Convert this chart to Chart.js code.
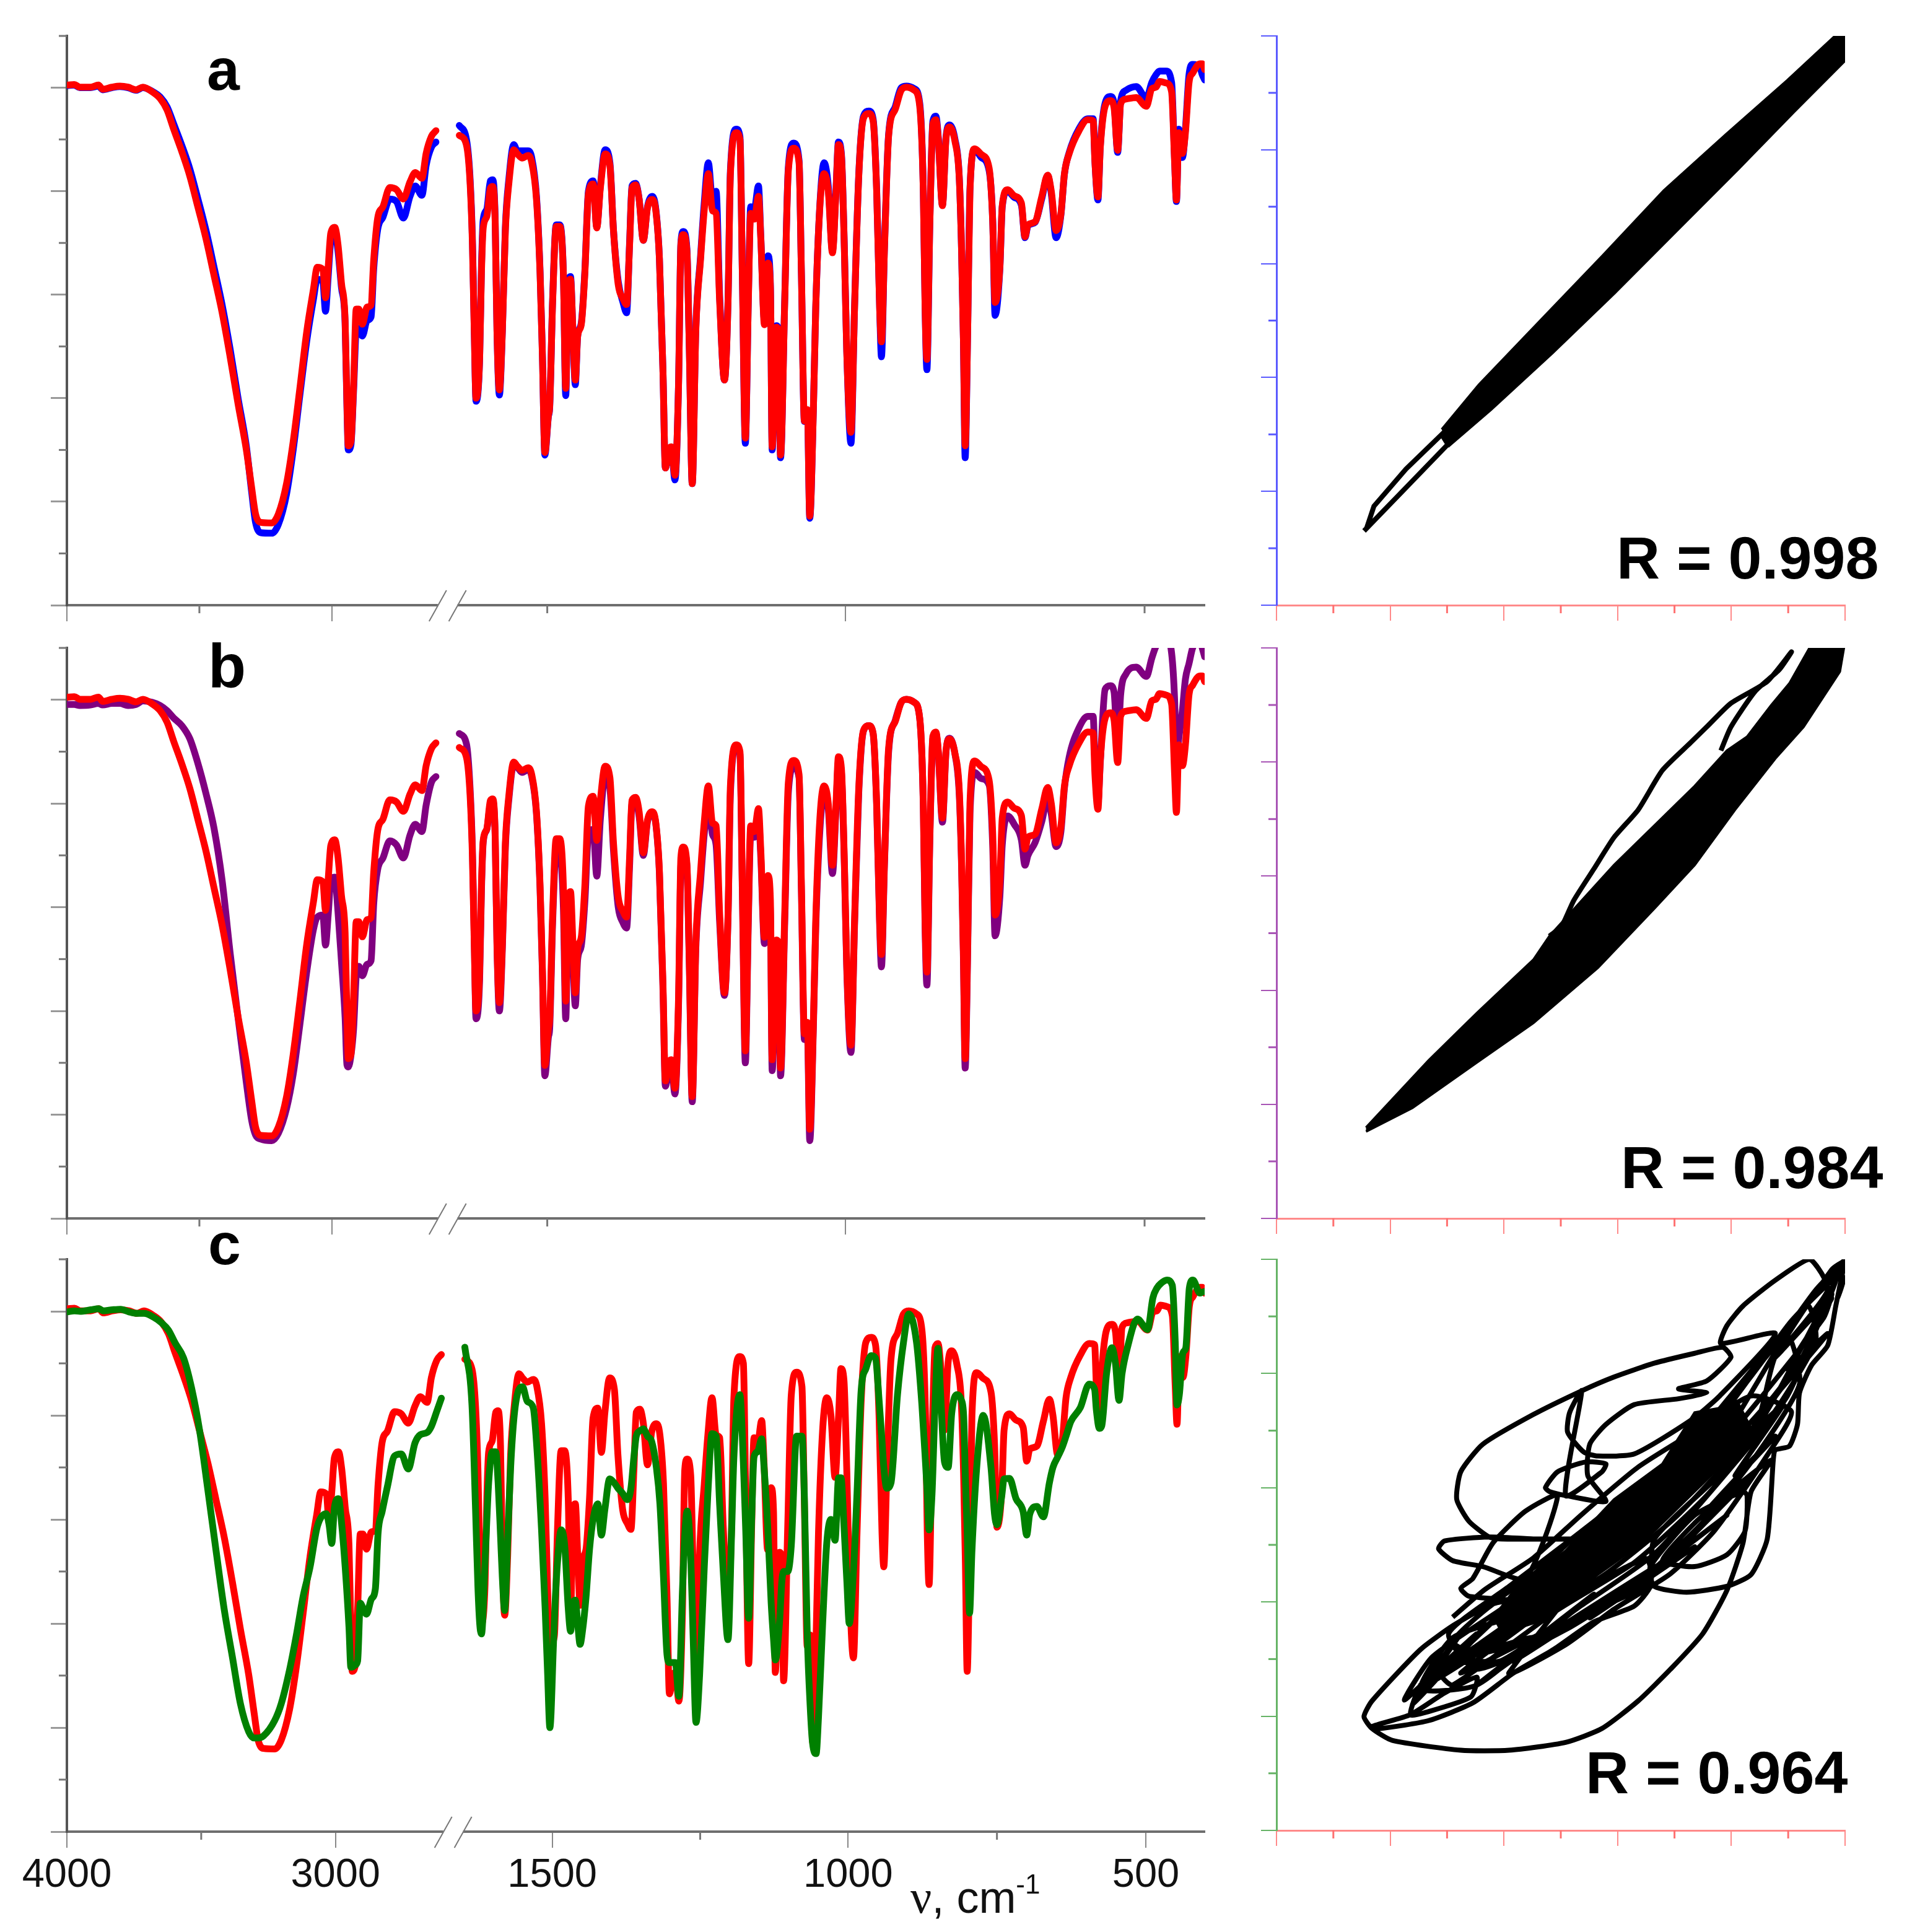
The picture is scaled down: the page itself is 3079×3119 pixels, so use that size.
<!DOCTYPE html>
<html>
<head>
<meta charset="utf-8">
<title>IR spectra and correlation plots</title>
<script src="https://cdn.jsdelivr.net/npm/chart.js@4/dist/chart.umd.js"></script>
<style>
  html, body { margin: 0; padding: 0; background: #fff; }
  #page { position: relative; width: 3079px; height: 3119px; overflow: hidden; background: #fff; }
  canvas { position: absolute; }
  .label { position: absolute; font-family: "Liberation Sans", sans-serif; font-weight: bold; line-height: 1; color: #000; white-space: pre; }
  #axisName { position: absolute; left: 1470px; top: 3024px; font: 72px/1 "Liberation Sans", sans-serif; color: #111; white-space: pre; }
  #axisName i { font: 76px/1 "Liberation Serif", serif; }
  #axisName sup { font-size: 44px; line-height: 0; position: relative; top: -6px; vertical-align: super; }
</style>
</head>
<body>
<div id="page">
  <canvas id="specA"></canvas><canvas id="specB"></canvas><canvas id="specC"></canvas>
  <canvas id="corrA"></canvas><canvas id="corrB"></canvas><canvas id="corrC"></canvas>
  <div class="label" style="left:334px;top:65px;font-size:95px">a</div>
  <div class="label" style="left:336px;top:1025px;font-size:100px">b</div>
  <div class="label" style="left:336px;top:1961px;font-size:95px">c</div>
  <div class="label" style="left:2610px;top:852px;font-size:97px">R = 0.998</div>
  <div class="label" style="left:2617px;top:1836px;font-size:97px">R = 0.984</div>
  <div class="label" style="left:2560px;top:2813px;font-size:97px">R = 0.964</div>
  <div id="axisName"><i>ν</i>, cm<sup>-1</sup></div>
</div>
<script>
// Spectra, high wavenumber part (cm-1 and relative transmittance)
const wnLeft = [3998,3972,3951,3911,3881,3865,3830,3800,3769,3739,
  3713,3678,3648,3622,3597,3566,3536,3506,3475,3445,
  3414,3384,3354,3323,3303,3288,3268,3227,3202,3171,
  3146,3121,3095,3070,3055,3034,3024,3014,3004,2989,
  2977,2964,2950,2943,2938,2928,2918,2908,2898,2885,
  2867,2852,2842,2827,2807,2781,2756,2730,2705,2685,
  2660,2644,2624,2607];
const redLeft = [100.5,100.6,100.1,100.1,100.5,99.7,100.1,100.3,100.1,99.6,
  100.1,99.2,97.9,95.7,92,87.6,82.9,77,70.8,63.8,
  56.5,48,38.9,30.1,22.8,17.6,16,15.9,17.6,23.5,
  31.6,41.8,52.8,60.9,65.3,64.9,59.4,65.3,71.9,73,
  69.7,62.3,55,38.9,30.8,31.6,42.6,57.2,57.2,54.3,
  57.6,58,66.7,74.8,77,80.7,80.3,78.5,81.8,83.6,
  82.5,87.3,90.6,91.7];
const blueLeft = [100.4,100.5,100,100,100.3,99.6,100,100.2,100,99.5,
  100,99.3,98.2,96.3,93,88.8,84.3,78.6,72.4,65.4,
  58,49.5,40,30.8,22,16,14,13.9,15.6,21.5,
  30,40.5,51,59,63,62.5,56.8,63.5,70.5,72,
  68.5,61.5,54.5,38,30,31,41.5,53,53.5,52,
  55,55.7,65,72.6,75,78.5,78,74.8,79,81,
  79.2,85,88.5,89.5];
const purpleLeft = [99.1,99.1,98.9,99,99.3,99,99.3,99.3,98.9,99.1,
  99.8,99.5,98.9,97.9,96.5,95,92.5,87.8,81.9,75.3,
  65.1,51.2,38.7,26.3,19,16.1,15.3,15,16.4,21.2,
  27.8,37.3,47.5,55.6,58.1,58.5,52.7,58.5,65.1,65.8,
  59.2,49.7,38.7,29.6,29.2,31.4,36.6,46.8,48.6,46.8,
  49,49.7,60.7,67.3,69.5,72.8,72,69.5,73.9,76,
  74.6,79.7,84.1,85.2];
const greenLeft = [99.9,100.1,100,100.3,100.5,100.1,100.3,100.4,99.9,99.6,
  99.6,98.9,97.8,96.4,93.9,91.1,85.3,77.1,65.6,54.1,
  42.6,33.6,24.6,19.2,18,18,18.4,21.3,24.6,31.1,
  37.7,45.1,50.8,58.2,60.3,61.1,59,55.4,62.3,64,
  59,50.8,39.3,31.6,31.6,32,32.8,43.9,43,41.8,
  44.7,46.7,57.4,61.5,66.4,72.2,72.6,69.7,74.7,76.3,
  76.7,77.9,80.8,83.3];

// Spectra, fingerprint part
const wnRight = [1647,1635,1629,1625,1622,1619,1613,1610,1607,1601,
  1595,1591,1587,1584,1580,1575,1570,1564,1556,1550,
  1542,1532,1526,1518,1512,1508,1504,1498,1496,1491,
  1485,1479,1473,1469,1465,1461,1457,1453,1449,1443,
  1437,1431,1423,1417,1411,1403,1395,1389,1381,1373,
  1367,1362,1358,1352,1346,1339,1332,1324,1318,1312,
  1306,1302,1296,1292,1286,1280,1276,1272,1266,1262,
  1257,1251,1243,1237,1230,1223,1217,1211,1203,1197,
  1193,1183,1177,1173,1168,1163,1159,1153,1146,1142,
  1136,1130,1126,1123,1116,1112,1109,1102,1096,1087,
  1078,1074,1069,1064,1060,1054,1050,1043,1036,1029,
  1022,1016,1012,1007,1002,998,991,985,978,970,
  961,954,948,943,940,935,928,917,907,898,
  885,876,870,867,864,859,854,849,845,838,
  832,826,817,810,806,803,800,796,792,784,
  773,760,754,750,742,738,729,718,706,700,
  695,683,672,662,656,648,640,634,626,610,
  595,586,583,578,574,566,557,551,545,540,
  531,514,497,488,481,475,464,455,450,447,
  443,437,432,426,420,408,404,399];
const redRight = [90.8,88.9,81.7,69.6,53.1,40,47.7,64.1,72.9,75.1,
  80.6,80.9,74,53.1,41.6,53.1,72.4,81.7,88,87.2,
  86.4,86.9,85.6,78.4,64.1,47.7,29.5,36.7,38.3,58.6,
  73.2,73.2,64.1,41.9,61.4,63,53.1,43.5,52,54.2,
  64.1,79.5,81.4,72.9,80.6,87.2,85,72.4,61.9,59.2,
  58.1,69.6,80.6,81.2,78.4,70.5,76.8,78.4,76.2,66.9,
  44.9,26.5,30.1,30.6,25.1,42.2,69.6,71.6,68.5,50.4,
  23.5,53.1,66.9,76.2,83.4,76.2,75.7,58.6,43.5,58.6,
  83.4,91.3,90,64.1,32.3,58.6,75.7,74.6,79,70.7,
  54.2,66.1,61.4,30.6,53.7,52.6,29,58.6,83.9,88.3,
  85.6,64.1,35.6,37.8,17.2,37.6,57.4,77.2,83.4,80,
  68.1,80,89,86.8,68.7,48.9,33.4,57.4,82.8,94.1,
  95,93.6,80,57.4,50.9,68.7,90.7,95.8,99.5,100.1,
  99.5,96.4,80,57.4,47.5,74.3,93,93.8,90.2,77.2,
  90.2,92.4,89.6,82.8,68.7,51.7,30.8,51.7,80,88.2,
  87.1,84.5,74.3,58.5,65.3,77.2,80.3,79.1,77.7,71.2,
  73.5,74.1,78.9,83.1,80,72.4,75.5,83.4,87.3,91.6,
  93.8,93.6,85.6,78.9,88.5,96.4,97.5,96.1,87.9,96.9,
  97.8,98.1,96.4,99.8,100.1,101.2,100.9,99.2,85.6,78.3,
  91.3,87.3,91.3,101,102.8,104.6,104.6,103.5];
const blueRight = [92.7,90,82.5,70.5,53.5,39.4,47.5,65,74.5,76.5,
  82,82.2,74.5,53,40.6,53,73,82.5,89,87.8,
  87.8,87.8,86.5,79,64.5,48,29,36.5,38,59,
  73.5,73.5,64.3,40.5,62,63.5,53,42.6,52,54.5,
  64.5,80,82,73,81,88,85.5,72.5,62.5,58.5,
  56.5,70,81,81.5,78.5,70.5,77,79,76.5,67,
  45,26.5,30,30.5,24.2,42.5,70,72.2,69,50.5,
  23.5,53.5,67.5,77.5,85.5,78,80,59.5,43.5,59,
  84,92,90.5,64,31.3,59,77,76.5,81,71,
  55,67.5,62,30,54,52.5,28.5,59,84.5,89.3,
  86,64,35.5,37.5,16.8,37.6,57.5,77.5,85.5,81,
  68.5,80.5,89.5,87.2,69,49,31.3,57.5,83,94.5,
  95.5,94,80.3,57.5,48,69,91,96.3,100,100.3,
  99.8,97,80.2,57.5,45.5,74.5,93.5,94.5,90.5,77.3,
  90.5,92.8,90,83,68.5,51.5,28.5,52,80.3,88,
  86.5,84,74.5,56,65,77,80,78.8,77.3,71,
  73.3,74,78.5,83,79.5,71,75.3,83.3,87.5,92,
  94,94,85.8,78.3,88.8,97,98.3,97,87.5,97.5,
  99.5,100.2,98,101,102.5,103.2,103.2,101,86,78,
  92,86.5,92,102.5,104.5,104,102.5,101.5];
const purpleRight = [93.5,91.5,83,71,54,38.5,46,63,72.5,75,
  80,80.5,73.5,52.5,40,52,71.5,81,87.5,87,
  86,86.5,85.2,78,63.5,47,27.5,35,36.5,57,
  71,70.5,60,38.5,58,59,50,41,50,52.5,
  61,74,75,66,77,85,83,71,60,57,
  56,68,80,80.5,77.5,70,76.5,78,76,66.5,
  44,25.5,29,29.5,24,41,68,71,68,49.5,
  22.5,52,65,74,80,74,72,57,43,58,
  82,91,89.5,63,30,57,74,73.5,77,69.5,
  53,64,59,28.5,52,51,27.5,57,82,87,
  85,63,34.5,36,15,36.5,56,75,82,79,
  66.5,79,88,86,68,48,32,56.5,82,94,
  95,93.5,79.5,56.5,48.5,68,90,96,99.5,100.1,
  99.5,96.4,79.5,56,45,73.5,92.5,93.5,90,76.4,
  90,92.6,89.5,82,68,50.5,29,50,78,86,
  84.8,83.6,72,54.5,62.1,72,77.6,76,73,68.1,
  70,72.5,76.5,81,78,71.7,74.5,83,89,94.5,
  96.8,96.8,88,80,88,102,102.7,101.5,91,101,
  105,106.3,104.5,108,110.3,111,112,109,100,88,
  92.5,98,104,107,110,112,110,108.3];
const greenRight = [93.1,82,62,47,40,38,52,60,67,73,
  73,67,57,49,42.5,56,70,80,85,85.5,
  82.7,81.5,74,58,43,31,20,36,42,52,
  58,55,43,38.5,44,44.5,40,36,38.5,45,
  54.3,60,63,57,62,67.8,67,66,65,63.8,
  66,72,76,77,77.4,76,75,70,63,49,
  34,32.5,32.5,32.5,26,46,57,61.6,53,38,
  21,30,51,65,76.5,76,62.7,50,36.9,57,
  72,84,71,58,41,60,72,73,75.5,70,
  59,44,37,33,40,48,50,50,55,76,
  76,65,38,24,17,15,22,40,55.5,60,
  56,68,68,59,48,40,50,65,84.8,89,
  91.5,91,83,75,70,66,67,84,94,99.5,
  94,82,71,65,58,65,82,92.9,85,71,
  70,80.4,84,83,80,68,58,42,54,70,
  80,70,61,59,64.5,67.8,67.9,64,61.5,57,
  61,62.5,60.5,67,70,72,74,76,78.8,81.5,
  86,85,81,77.5,78,88,93,90,82.9,88,
  93,98.5,96.5,102.6,104.5,105.3,106,105,94,82,
  84,92,93,104.5,106,103.5,103.7,103.8];

// Correlation plots, arbitrary units: solid band outlines and single traces
const bandAx = [139,174,224,274,324,374,419,461,461,454,414,364,314,264,214,164,134];
const bandAy = [128,158,204,252,302,352,398,440,461,461,424,380,335,282,230,178,142];
const traceAx = [71,105,139,134,105,79,73];
const traceAy = [60,95,130,138,110,80,62];

const bandBx = [222,337,497,637,797,937,1037,1137,1237,1307,1397,1407,1322,1272,1227,1167,1117,1037,937,837,677,637,497,377,222];
const bandBy = [220,280,395,495,635,785,895,1035,1165,1245,1385,1445,1445,1355,1300,1220,1185,1095,995,895,715,655,520,400,230];
const traceBx = [677,707,737,787,837,897,957,1027,1067,1127,1217,1277,1247,1187,1127,1102];
const traceBy = [715,740,805,885,965,1035,1135,1205,1245,1305,1360,1435,1390,1335,1245,1185];

const bandCx = [620,740,860,970,1080,1200,1240,1210,1100,1020,900,780,660,600];
const bandCy = [498,538,648,728,838,958,1018,1078,1058,928,838,708,618,538];
const traceCx = [1473,1450,1430,1390,1360,1355,1335,1300,1295,1280,1240,1180,1080,1000,
  990,1100,1220,1230,1225,1180,1100,1020,1100,1200,1290,
  1240,1220,1180,1120,1040,960,870,780,640,520,350,300,
  280,300,420,500,600,700,820,1000,1150,1300,1400,1470,
  1300,1200,1000,990,950,850,750,650,550,440,320,300,
  395,480,560,545,430,395,420,540,700,560,420,
  500,640,820,980,990,830,680,560,500,
  600,640,540,520,550,600,680,760,
  680,575,500,465,480,590,700,800,
  620,590,540,510,520,575,700,820,900,1000,1100,1170,1190,1130,1060,1130,
  1060,950,880,840,835,880,780,740,730,760,830,880,870,780,
  820,790,785,825,860,950,1090,1160,1300,1165,1180,1220,1300,1385,
  1430,1300,1440,1330,1430,1280,1380,1230,1320,1200,1300,1120,1240,1050,1180,950,1100,840,1020,740,950,650,850,560,760,520,700,450,640,420,560,400,520,
  430,800,1150,1350,1440,
  1420,1250,1080,850,560,470,
  500,760,950,1130,1290,1400,
  1380,1200,1040,820,640,490,
  560,780,960,1120,1260,1360,
  1330,1180,1000,880,720,590,520,
  620,820,1000,1200,1330,1410,
  1450,1340,1240,1130,960,760,620,450,
  380,480,640,880,1060,1250,
  1300,1440,1470,1445,1470,1455,1473,
  640,780,900,1040,1150,1280,1340,
  1240,1100,960,820,700,580,500];
const traceCy = [1443,1328,1228,1178,1108,1028,973,963,938,738,648,618,603,618,
  668,798,858,848,758,698,668,683,778,868,938,
  858,728,608,498,408,328,258,223,203,203,228,258,
  288,328,458,518,578,648,758,898,1048,1228,1368,1438,
  1098,938,738,618,568,528,458,398,323,278,258,263,
  293,348,388,338,298,293,363,438,488,368,358,
  488,538,608,688,628,548,478,448,478,
  573,583,593,613,638,728,808,848,
  638,668,683,713,733,743,738,738,
  738,743,783,838,908,978,1053,1113,1148,1183,1208,1223,1198,1138,1118,1108,
  1093,1078,1028,978,898,833,848,858,868,908,933,928,908,848,
  1113,1058,1008,958,948,953,1038,1098,1258,1233,1278,1328,1393,1446,
  1368,1198,1348,1168,1258,1078,1208,998,1078,898,998,798,898,698,798,618,718,538,678,498,628,428,598,368,518,398,538,378,568,368,498,318,498,
  368,638,938,1168,1358,
  1298,1078,878,678,468,398,
  368,558,678,848,1048,1238,
  1328,1098,938,758,618,498,
  408,508,628,780,960,1130,
  1250,1010,830,740,610,520,440,
  430,570,700,930,1100,1290,
  1398,1290,1150,1000,800,660,560,440,
  330,420,500,650,800,1020,
  1200,1420,1440,1395,1400,1350,1446,
  400,470,560,650,760,950,1060,
  1100,1010,920,800,690,610,540];

// Wavenumber to axis fraction, the axis is broken between 2600 and 1650
const AXIS_ANCHORS = {
  ab: [[4000,0],[3000,0.2329],[2600,0.3260],[1650,0.3433],[1500,0.4222],[1000,0.6844],[500,0.9472],[400,1]],
  c:  [[4000,0],[3000,0.2361],[2600,0.3308],[1650,0.3482],[1500,0.4266],[1000,0.6866],[500,0.9483],[400,1]]
};

class WavenumberScale extends Chart.LinearScale {
  static id = 'wavenumber';
  static defaults = {};

  getPixelForValue(value) {
    const anchors = AXIS_ANCHORS[this.options.anchorSet];
    for (let i = 1; i < anchors.length; i++) {
      if (value >= anchors[i][0]) {
        const [w0, f0] = anchors[i - 1];
        const [w1, f1] = anchors[i];
        return this.left + this.width * (f0 + (f1 - f0) * (w0 - value) / (w0 - w1));
      }
    }
    return this.right;
  }
}
Chart.register(WavenumberScale);

// Short tick marks, the long ones are the native grid ticks
const minorTicksPlugin = {
  id: 'minorTicks',
  afterDraw(chart, args, opts) {
    const { ctx } = chart;
    const x = chart.scales.x;
    const y = chart.scales.y;
    ctx.save();
    ctx.lineWidth = 3;
    ctx.strokeStyle = opts.xColor;
    (opts.xValues || []).forEach(v => {
      const px = x.getPixelForValue(v);
      ctx.beginPath();
      ctx.moveTo(px, y.bottom);
      ctx.lineTo(px, y.bottom + 13);
      ctx.stroke();
    });
    ctx.strokeStyle = opts.yColor;
    (opts.yValues || []).forEach(v => {
      const py = y.getPixelForValue(v);
      ctx.beginPath();
      ctx.moveTo(x.left - 13, py);
      ctx.lineTo(x.left, py);
      ctx.stroke();
    });
    ctx.restore();
  }
};

// The two slanted strokes over the gap in the x axis
const axisBreakPlugin = {
  id: 'axisBreak',
  afterDraw(chart, args, opts) {
    if (!opts.enabled) return;
    const { ctx } = chart;
    const x = chart.scales.x;
    const base = chart.scales.y.bottom;
    const x0 = x.getPixelForValue(2600);
    const x1 = x.getPixelForValue(1650);
    ctx.save();
    ctx.fillStyle = '#fff';
    ctx.fillRect(x0, base - 4, x1 - x0, 8);
    ctx.strokeStyle = '#777';
    ctx.lineWidth = 2;
    [x0, x1].forEach(px => {
      ctx.beginPath();
      ctx.moveTo(px - 14, base + 26);
      ctx.lineTo(px + 14, base - 24);
      ctx.stroke();
    });
    ctx.restore();
  }
};

function toPoints(xs, ys) {
  return xs.map((x, i) => ({ x, y: ys[i] }));
}

function placeCanvas(id, left, top, width, height) {
  const el = document.getElementById(id);
  el.width = width;
  el.height = height;
  el.style.left = left + 'px';
  el.style.top = top + 'px';
  el.style.width = width + 'px';
  el.style.height = height + 'px';
  return el;
}

function spectrumSet(xs, ys, color) {
  return {
    data: toPoints(xs, ys),
    borderColor: color,
    borderWidth: 11,
    showLine: true,
    pointRadius: 0,
    cubicInterpolationMode: 'monotone',
    borderJoinStyle: 'round',
    borderCapStyle: 'round'
  };
}

/**
 * One spectrum panel, the second series is the one compared with red.
 * Chart.js paints the first dataset last, so it ends up on top.
 */
function initSpectrum(cfg) {
  const el = placeCanvas(cfg.id, 0, cfg.top, 1960, cfg.height);
  const series = [
    { xs: wnLeft, ys: redLeft, color: '#ff0000' },
    { xs: wnRight, ys: redRight, color: '#ff0000' },
    { xs: wnLeft, ys: cfg.otherLeft, color: cfg.color },
    { xs: wnRight, ys: cfg.otherRight, color: cfg.color }
  ];
  if (cfg.otherOnTop) series.reverse();

  new Chart(el, {
    type: 'scatter',
    data: { datasets: series.map(s => spectrumSet(s.xs, s.ys, s.color)) },
    options: {
      responsive: false,
      animation: false,
      devicePixelRatio: 1,
      events: [],
      layout: { padding: { left: 82, top: cfg.padTop, right: 15, bottom: 0 } },
      plugins: {
        legend: { display: false },
        tooltip: { enabled: false },
        minorTicks: { xValues: cfg.xMinor, yValues: [110, 90, 70, 50, 30, 10], xColor: '#777', yColor: '#777' },
        axisBreak: { enabled: true }
      },
      scales: {
        x: {
          type: 'wavenumber',
          anchorSet: cfg.anchorSet,
          min: 400,
          max: 4000,
          afterFit(s) { s.height = cfg.axisHeight; },
          afterBuildTicks(s) { s.ticks = cfg.xMajor.map(value => ({ value })); },
          border: { color: '#6e6e6e', width: 4 },
          grid: { drawOnChartArea: false, tickLength: 26, color: '#888', lineWidth: 2 },
          ticks: {
            display: cfg.showLabels,
            autoSkip: false,
            maxRotation: 0,
            minRotation: 0,
            padding: 6,
            color: '#111',
            font: { family: 'Liberation Sans', size: 65 },
            callback: v => String(v)
          }
        },
        y: {
          min: 0,
          max: 110,
          afterFit(s) { s.width = 26; },
          afterBuildTicks(s) { s.ticks = [0, 20, 40, 60, 80, 100].map(value => ({ value })); },
          border: { color: '#555', width: 4 },
          grid: { drawOnChartArea: false, tickLength: 26, color: '#999', lineWidth: 3 },
          ticks: { display: false }
        }
      }
    },
    plugins: [minorTicksPlugin, axisBreakPlugin]
  });
}

/**
 * One correlation panel: a filled band plus the traces that leave it
 */
function initCorrelation(cfg) {
  const el = placeCanvas(cfg.id, 2030, cfg.top, 1040, cfg.height);
  const stepsX = [];
  const stepsY = [];
  for (let i = 0; i <= 10; i++) {
    const vx = cfg.xMin + (cfg.xMax - cfg.xMin) * i / 10;
    const vy = cfg.yMax * i / 10;
    (i % 2 === 0 ? stepsX : stepsY).push([vx, vy]);
  }

  new Chart(el, {
    type: 'scatter',
    data: {
      datasets: [
        {
          data: toPoints(cfg.bandX, cfg.bandY),
          showLine: true,
          fill: 'shape',
          backgroundColor: '#000',
          borderColor: '#000',
          borderWidth: 4,
          pointRadius: 0
        },
        {
          data: toPoints(cfg.traceX, cfg.traceY),
          showLine: true,
          borderColor: '#000',
          borderWidth: 8,
          tension: cfg.tension,
          pointRadius: 0
        }
      ]
    },
    options: {
      responsive: false,
      animation: false,
      devicePixelRatio: 1,
      events: [],
      layout: { padding: { left: 5, top: cfg.padTop, right: 91, bottom: 0 } },
      plugins: {
        legend: { display: false },
        tooltip: { enabled: false },
        minorTicks: {
          xValues: stepsY.map(p => p[0]),
          yValues: stepsY.map(p => p[1]),
          xColor: '#ff7070',
          yColor: cfg.axisColor
        }
      },
      scales: {
        x: {
          min: cfg.xMin,
          max: cfg.xMax,
          afterFit(s) { s.height = 30; },
          afterBuildTicks(s) { s.ticks = stepsX.map(p => ({ value: p[0] })); },
          border: { color: '#ff8a8a', width: 3 },
          grid: { drawOnChartArea: false, tickLength: 25, color: '#ff8a8a', lineWidth: 2 },
          ticks: { display: false }
        },
        y: {
          min: 0,
          max: cfg.yMax,
          afterFit(s) { s.width = 26; },
          afterBuildTicks(s) { s.ticks = stepsX.map(p => ({ value: p[1] })); },
          border: { color: cfg.axisColor, width: 3 },
          grid: { drawOnChartArea: false, tickLength: 25, color: cfg.axisColor, lineWidth: 2 },
          ticks: { display: false }
        }
      }
    },
    plugins: [minorTicksPlugin]
  });
}

initSpectrum({ id: 'specA', top: 0, height: 1007, padTop: 58, axisHeight: 30, anchorSet: 'ab',
  color: '#0000ff', otherLeft: blueLeft, otherRight: blueRight, showLabels: false,
  xMajor: [4000, 3000, 1000], xMinor: [3500, 1500, 500] });
initSpectrum({ id: 'specB', top: 1000, height: 997, padTop: 46, axisHeight: 30, anchorSet: 'ab',
  color: '#800080', otherLeft: purpleLeft, otherRight: purpleRight, showLabels: false,
  xMajor: [4000, 3000, 1000], xMinor: [3500, 1500, 500] });
initSpectrum({ id: 'specC', top: 2000, height: 1087, padTop: 33, axisHeight: 130, anchorSet: 'c',
  color: '#008000', otherLeft: greenLeft, otherRight: greenRight, showLabels: true, otherOnTop: true,
  xMajor: [4000, 3000, 1500, 1000, 500], xMinor: [3500, 1250, 750] });

initCorrelation({ id: 'corrA', top: 0, height: 1007, padTop: 58, axisColor: '#5a5aff', tension: 0,
  xMin: 0, xMax: 461, yMax: 460, bandX: bandAx, bandY: bandAy, traceX: traceAx, traceY: traceAy });
initCorrelation({ id: 'corrB', top: 1000, height: 997, padTop: 46, axisColor: '#a855b5', tension: 0.2,
  xMin: 0, xMax: 1410, yMax: 1445, bandX: bandBx, bandY: bandBy, traceX: traceBx, traceY: traceBy });
initCorrelation({ id: 'corrC', top: 2000, height: 985, padTop: 33, axisColor: '#66b366', tension: 0.2,
  xMin: 63, xMax: 1473, yMax: 1446, bandX: bandCx, bandY: bandCy, traceX: traceCx, traceY: traceCy });
</script>
</body>
</html>
